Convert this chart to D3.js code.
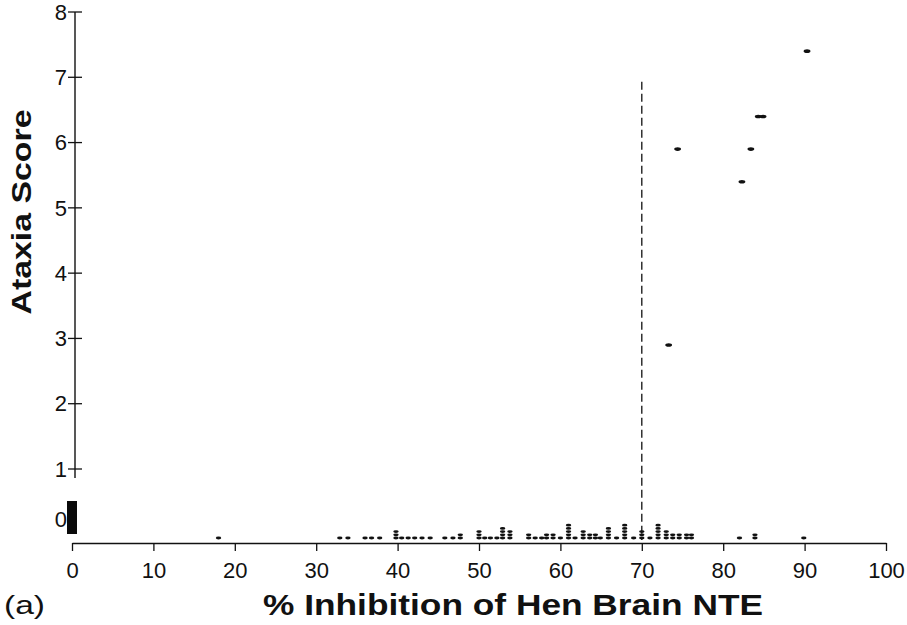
<!DOCTYPE html>
<html>
<head>
<meta charset="utf-8">
<script src="https://cdnjs.cloudflare.com/ajax/libs/d3/7.8.5/d3.min.js"></script>
<style>
  body { margin: 0; background: #fff; }
  text { fill: #111; }
</style>
</head>
<body>
<div id="vis"></div>
<script>
// hens that showed ataxia
let ataxicNTE = [73.3, 74.4, 82.3, 83.4, 84.3, 84.9, 90.3];
let ataxicScore = [2.9, 5.9, 5.4, 5.9, 6.4, 6.4, 7.4];

// hens with score 0, grouped by % inhibition (count = stacked marks)
let zeroNTE = [18, 32.9, 33.9, 36, 36.8, 37.8, 39.8, 40.5, 41.3, 42.1, 43, 44,
  45.8, 46.8, 47.7, 50, 50.7, 51.4, 52.2, 52.9, 53.8, 56.1, 56.9, 57.7, 58.3, 59.1, 60,
  61, 61.8, 62.8, 63.6, 64.3, 64.9, 65.9, 66.9, 67.9, 69, 70, 71, 72, 73, 73.8, 74.6,
  75.5, 76.1, 82, 83.9, 89.9];
let zeroCount = [1, 1, 1, 1, 1, 1, 3, 1, 1, 1, 1, 1,
  1, 1, 2, 3, 1, 1, 1, 4, 3, 2, 1, 1, 2, 2, 1,
  5, 1, 3, 2, 2, 1, 4, 1, 5, 1, 3, 1, 5, 3, 2, 2,
  2, 2, 1, 2, 1];
let zeroAtOrigin = 11;   // solid block at 0 % inhibition

let xTicks = [0, 10, 20, 30, 40, 50, 60, 70, 80, 90, 100];
let yTicks = [1, 2, 3, 4, 5, 6, 7, 8];
let thresholdNTE = 70;
let thresholdTop = 6.93;

let width = 907, height = 625;

let svg = d3.select('#vis')
  .append('svg')
  .attr('width', width)
  .attr('height', height)
  .style('font-family', 'Liberation Sans, Arial, sans-serif')

let x = d3.scaleLinear().domain([0, 100]).range([72, 886]);
let y = d3.scaleLinear().domain([1, 8]).range([469, 12]);
let yAxisX = 75;
let zeroY = 519;         // broken axis: score 0 sits below the main scale
let stackBase = 538, stackStep = 3.2;
let xAxisY = 543;
let tickFont = 'Liberation Sans Narrow, Arial Narrow, sans-serif';

// x axis
let xAxis = svg.append('g')
  .attr('transform', 'translate(0,' + xAxisY + ')')
  .call(d3.axisBottom(x).tickValues(xTicks).tickSize(8).tickSizeOuter(0).tickPadding(11))
xAxis.select('.domain').attr('stroke', '#111').attr('stroke-width', 1.4)
xAxis.selectAll('.tick line').attr('stroke', '#111').attr('stroke-width', 1.3)
xAxis.selectAll('.tick text')
  .attr('fill', '#111')
  .style('font-family', tickFont)
  .style('font-size', '22px')

// y axis (1..8 plus the separate 0)
svg.append('line')
  .attr('x1', yAxisX).attr('x2', yAxisX)
  .attr('y1', y(8)).attr('y2', y(1) + 9)
  .attr('stroke', '#111').attr('stroke-width', 1.4)

let yt = svg.selectAll('.ytick')
  .data(yTicks)
  .enter().append('g')
  .attr('class', 'ytick')
  .attr('transform', d => 'translate(0,' + y(d) + ')')
yt.append('line')
  .attr('x1', yAxisX - 7).attr('x2', yAxisX + 7)
  .attr('stroke', '#111').attr('stroke-width', 1.3)
yt.append('text')
  .attr('x', yAxisX - 8)
  .attr('dy', '0.35em')
  .attr('text-anchor', 'end')
  .style('font-family', tickFont)
  .style('font-size', '22px')
  .text(d => d)

svg.append('line')
  .attr('x1', yAxisX - 7).attr('x2', yAxisX + 2)
  .attr('y1', zeroY).attr('y2', zeroY)
  .attr('stroke', '#111').attr('stroke-width', 1.3)
svg.append('text')
  .attr('x', yAxisX - 8)
  .attr('y', zeroY)
  .attr('dy', '0.35em')
  .attr('text-anchor', 'end')
  .style('font-family', tickFont)
  .style('font-size', '22px')
  .text('0')

// block of hens at 0 % inhibition
svg.append('rect')
  .attr('x', x(0) - 5)
  .attr('y', zeroY + 15 - zeroAtOrigin * 3)
  .attr('width', 10)
  .attr('height', zeroAtOrigin * 3)
  .attr('fill', '#0a0a0a')

// threshold line
svg.append('line')
  .attr('x1', x(thresholdNTE)).attr('x2', x(thresholdNTE))
  .attr('y1', y(thresholdTop)).attr('y2', stackBase + 2)
  .attr('stroke', '#111').attr('stroke-width', 1.3)
  .attr('stroke-dasharray', '8,4')

// stacked score-0 marks
let stacks = [];
zeroNTE.forEach((v, i) => {
  for (let k = 0; k < zeroCount[i]; k++) stacks.push({ nte: v, k: k });
});
svg.selectAll('.zero')
  .data(stacks)
  .enter().append('ellipse')
  .attr('class', 'zero')
  .attr('cx', d => x(d.nte))
  .attr('cy', d => stackBase - d.k * stackStep)
  .attr('rx', 2.7).attr('ry', 1.4)
  .attr('fill', '#111')

// ataxic hens
svg.selectAll('.ataxic')
  .data(ataxicNTE)
  .enter().append('ellipse')
  .attr('class', 'ataxic')
  .attr('cx', d => x(d))
  .attr('cy', (d, i) => y(ataxicScore[i]))
  .attr('rx', 3.4).attr('ry', 1.8)
  .attr('fill', '#111')

// titles
svg.append('text')
  .attr('transform', 'translate(31,212) rotate(-90)')
  .attr('text-anchor', 'middle')
  .attr('textLength', 205)
  .attr('lengthAdjust', 'spacingAndGlyphs')
  .style('font-size', '28px')
  .style('font-weight', 'bold')
  .text('Ataxia Score')

svg.append('text')
  .attr('x', 513)
  .attr('y', 615)
  .attr('text-anchor', 'middle')
  .attr('textLength', 500)
  .attr('lengthAdjust', 'spacingAndGlyphs')
  .style('font-size', '29px')
  .style('font-weight', 'bold')
  .text('% Inhibition of Hen Brain NTE')

svg.append('text')
  .attr('x', 4)
  .attr('y', 614)
  .attr('textLength', 41)
  .attr('lengthAdjust', 'spacingAndGlyphs')
  .style('font-size', '26px')
  .text('(a)')
</script>
</body>
</html>
